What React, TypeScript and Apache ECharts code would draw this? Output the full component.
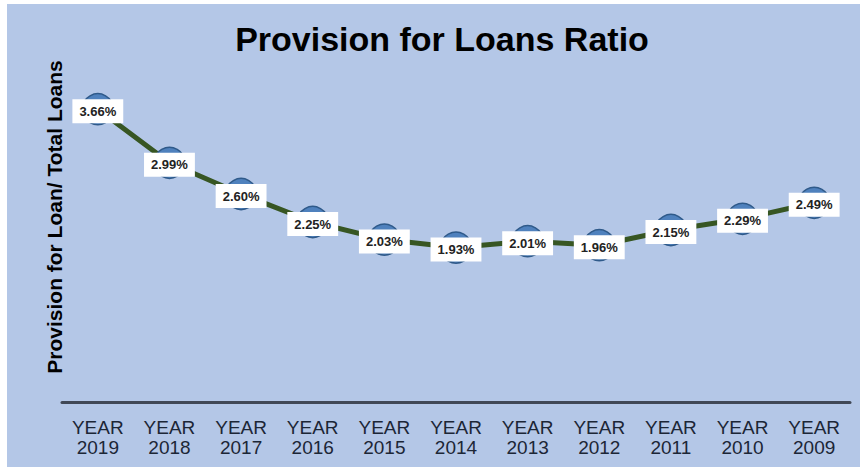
import React, { useEffect, useRef } from "react";
import * as echarts from "echarts";

const categories = ["YEAR\n2019", "YEAR\n2018", "YEAR\n2017", "YEAR\n2016", "YEAR\n2015", "YEAR\n2014", "YEAR\n2013", "YEAR\n2012", "YEAR\n2011", "YEAR\n2010", "YEAR\n2009"];
const ratios = [3.66, 2.99, 2.6, 2.25, 2.03, 1.93, 2.01, 1.96, 2.15, 2.29, 2.49];
const titleText = "Provision for Loans Ratio";
const yAxisTitle = "Provision for Loan/ Total Loans";

export default function App() {
  const ref = useRef<HTMLDivElement>(null);
  useEffect(() => {
    if (!ref.current) return;
    const chart = echarts.init(ref.current, null, { renderer: "svg" });
    chart.setOption({
      animation: false,
      backgroundColor: "#ffffff",
      graphic: [
        {
          type: "rect",
          z: -10,
          silent: true,
          shape: { x: 7, y: 4, width: 853, height: 463 },
          style: { fill: "#b4c7e7" },
        },
        {
          type: "text",
          x: 54,
          y: 217,
          rotation: Math.PI / 2,
          silent: true,
          style: {
            text: yAxisTitle,
            fontFamily: "Liberation Sans, Arial, sans-serif",
            fontWeight: "bold",
            fontSize: 21,
            fill: "#000000",
            textAlign: "center",
            textVerticalAlign: "middle",
          },
        },
      ],
      title: {
        text: titleText,
        left: 437,
        textAlign: "center",
        top: 17,
        textStyle: {
          fontFamily: "Liberation Sans, Arial, sans-serif",
          fontWeight: "bold",
          fontSize: 34,
          color: "#000000",
        },
      },
      grid: { left: 62, right: 10, top: 82, bottom: 65, containLabel: false },
      xAxis: {
        type: "category",
        data: categories,
        boundaryGap: true,
        axisLine: { show: true, lineStyle: { color: "#404856", width: 3 } },
        axisTick: { show: false },
        axisLabel: {
          margin: 15,
          fontFamily: "Liberation Sans, Arial, sans-serif",
          fontSize: 19,
          lineHeight: 20,
          color: "#1c2636",
          interval: 0,
        },
      },
      yAxis: {
        type: "value",
        min: 0,
        max: 4,
        show: true,
        axisLine: { show: false },
        axisTick: { show: false },
        axisLabel: { show: false },
        splitLine: { show: false },
      },
      series: [
        {
          type: "line",
          data: ratios,
          symbol: "circle",
          symbolSize: 31,
          lineStyle: { color: "#375623", width: 5 },
          itemStyle: { color: "#4f81bd", borderColor: "#2f5a8a", borderWidth: 1.5 },
          label: {
            show: true,
            position: "inside",
            offset: [0, 2],
            formatter: (p: any) => p.value.toFixed(2) + "%",
            backgroundColor: "#ffffff",
            padding: [6, 7, 5, 7],
            fontFamily: "Liberation Sans, Arial, sans-serif",
            fontWeight: "bold",
            fontSize: 13,
            color: "#222222",
          },
        },
      ],
    });
    return () => chart.dispose();
  }, []);
  return (
    <div
      ref={ref}
      style={{ position: "fixed", left: 0, top: 0, width: 860, height: 467 }}
    />
  );
}
